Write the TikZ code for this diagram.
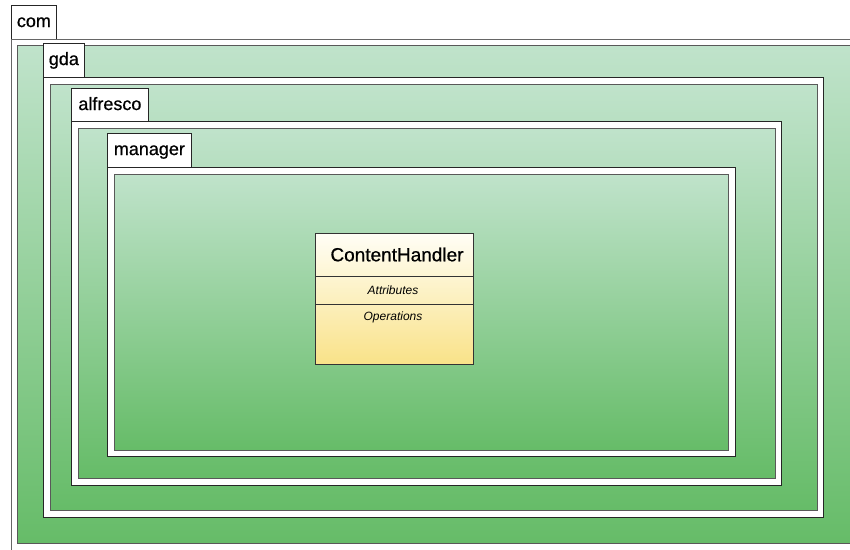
\documentclass[tikz,border=0pt]{standalone}
\usepackage{fontspec}
\setmainfont{Liberation Sans}
\newfontfamily\umlfont[FakeBold=0.7]{Liberation Sans}
\usetikzlibrary{shadows,positioning}

\definecolor{pkgtop}{RGB}{192,227,203}
\definecolor{pkgbottom}{RGB}{102,188,104}
\definecolor{classtop}{RGB}{255,254,246}
\definecolor{classbottom}{RGB}{249,226,136}

\tikzset{
  pkgtab/.style={draw=black!85, fill=white, line width=0.8pt, anchor=north west,
    inner sep=0pt, minimum height=34pt, text height=9.3pt, text depth=0pt,
    font=\umlfont\fontsize{18}{20}\selectfont},
  pkgbody/.style={draw=black!85, fill=white, line width=0.8pt,
    drop shadow={shadow xshift=1.3pt, shadow yshift=-1.3pt, fill=black!70, opacity=1}},
  pkgarea/.style={draw=black!65, line width=0.6pt, top color=pkgtop, bottom color=pkgbottom},
  classbox/.style={draw=black!80, line width=0.8pt, top color=classtop, bottom color=classbottom,
    anchor=north west, inner sep=0pt,
    drop shadow={shadow xshift=0.8pt, shadow yshift=-0.8pt, fill=black!50, opacity=1}},
  compartment/.style={font=\fontsize{12}{14}\selectfont\itshape, inner sep=0pt}
}

\begin{document}
\begin{tikzpicture}[x=1pt,y=-1pt]
  \useasboundingbox (0,0) rectangle (850,549);
  \clip (0,0) rectangle (850,549);

  % com
  \node (com) [pkgtab, minimum width=45pt] at (11,5) {com};
  \draw [draw=black!60, fill=white, line width=0.8pt] (11,39) rectangle (862,560);
  \draw [pkgarea] (17,45) rectangle (858,543);

  % gda
  \node (gda) [pkgtab, minimum width=41pt] at (43,43) {gda};
  \draw [pkgbody] (43,77) rectangle (823,517);
  \draw [pkgarea] (50,84) rectangle (817,510);

  % alfresco
  \node (alfresco) [pkgtab, minimum width=77pt] at (71,88) {alfresco};
  \draw [pkgbody] (71,121) rectangle (781,485);
  \draw [pkgarea] (78,128) rectangle (775,478);

  % manager
  \node (manager) [pkgtab, minimum width=84pt] at (107,133) {manager};
  \draw [pkgbody] (107,167) rectangle (735,456);
  \draw [pkgarea] (114,174) rectangle (728,450);

  % class
  \node (contenthandler) [classbox, minimum width=158pt, minimum height=131pt] at (315,233) {};
  \draw [draw=black!80, line width=0.8pt] ([yshift=-43pt]contenthandler.north west) -- ([yshift=-43pt]contenthandler.north east);
  \draw [draw=black!80, line width=0.8pt] ([yshift=-71pt]contenthandler.north west) -- ([yshift=-71pt]contenthandler.north east);
  \node (classname) [font=\umlfont\fontsize{19}{22}\selectfont, inner sep=0pt] at (397,254.5) {ContentHandler};
  \node (attributes) [compartment] at (393,290) {Attributes};
  \node (operations) [compartment] at (393,317) {Operations};
\end{tikzpicture}
\end{document}
